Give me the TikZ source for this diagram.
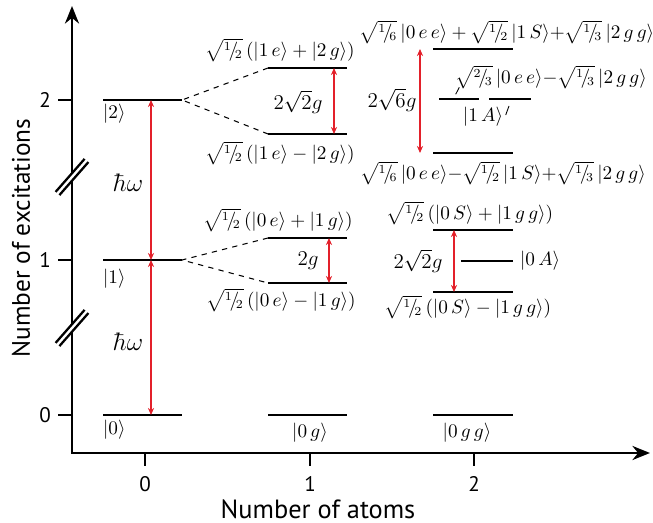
\documentclass[tikz,border=0pt]{standalone}
\usepackage{amsmath,amssymb}
\usepackage{fontspec}
\usepackage{tikz}
\usetikzlibrary{arrows.meta,calc,positioning}
\newfontfamily\axisfont{PT Sans}
\definecolor{GapRed}{HTML}{E3202A}
\newcommand{\kt}[1]{|#1\rangle}
\newcommand{\hf}[2]{{}^{#1}\!/\!{}_{#2}}

\begin{document}
\begin{tikzpicture}[x=0.02cm, y=-0.02cm, >=Stealth,
    eline/.style={line width=1.6pt},
    splitline/.style={dashed, line width=0.6pt},
    gaparrow/.style={{Stealth[length=4pt,width=3.5pt]}-{Stealth[length=4pt,width=3.5pt]}, GapRed, line width=0.8pt},
    axisline/.style={line width=1.5pt},
    ticklabel/.style={font=\axisfont\large},
    ketlabel/.style={inner sep=1pt, font=\fontsize{10.5}{12}\selectfont}]
    \useasboundingbox (0,0) rectangle (653,523);

    % Axes
    \coordinate (org) at (72,453);
    \coordinate (ytop) at (72,6);
    \coordinate (xend) at (650,453);
    \draw[axisline, {Stealth[length=10pt,width=8pt]}-{Stealth[length=10pt,width=8pt]}] (ytop) -- (org) -- (xend);

    % Ticks on both axes
    \foreach \v/\yy in {0/415,1/260,2/100} {
        \draw[axisline] (58,\yy) -- (72,\yy);
        \node[ticklabel] (ey\v) at (45,\yy) {\v};
    }
    \foreach \v/\xx in {0/145,1/310,2/474} {
        \draw[axisline] (\xx,453) -- (\xx,466);
        \node[ticklabel] (ax\v) at (\xx,484) {\v};
    }
    \node[font=\axisfont\fontsize{15}{17}\selectfont] (xlab) at (318,509) {Number of atoms};
    \node[font=\axisfont\Large, rotate=90] (ylab) at (21,238) {Number of excitations};

    % Axis breaks
    \foreach \yy in {177,328} {
        \begin{scope}[shift={(72,\yy)}]
            \draw[white, line width=3pt] (-14,16) -- (14,-16);
            \draw[line width=1.3pt] (-16.4,14.9) -- (12.6,-18.1);
            \draw[line width=1.3pt] (-12.6,18.1) -- (16.4,-14.9);
        \end{scope}
    }

    % No atom: photon ladder
    \coordinate (a0L) at (103,415); \coordinate (a0R) at (182,415);
    \coordinate (a1L) at (103,260); \coordinate (a1R) at (182,260);
    \coordinate (a2L) at (103,100); \coordinate (a2R) at (182,100);
    \foreach \n in {a0,a1,a2} \draw[eline] (\n L) -- (\n R);
    \node[ketlabel, anchor=west] (k0) at (101,430) {$\kt{0}$};
    \node[ketlabel, anchor=west] (k1) at (101,279) {$\kt{1}$};
    \node[ketlabel, anchor=west] (k2) at (101,114) {$\kt{2}$};
    \coordinate (h0) at (151,415);
    \coordinate (h1) at (151,260);
    \coordinate (h2) at (151,100);
    \draw[gaparrow] (h2) -- (h1);
    \draw[gaparrow] (h1) -- (h0);
    \node[font=\Large] (hw2) at (128,183) {$\hbar\omega$};
    \node[font=\Large] (hw1) at (128,342) {$\hbar\omega$};

    % One atom
    \coordinate (b0L) at (268,415); \coordinate (b0R) at (347,415);
    \coordinate (b1uL) at (268,238); \coordinate (b1uR) at (347,238);
    \coordinate (b1dL) at (268,283); \coordinate (b1dR) at (347,283);
    \coordinate (b2uL) at (268,68); \coordinate (b2uR) at (347,68);
    \coordinate (b2dL) at (268,134); \coordinate (b2dR) at (347,134);
    \foreach \n in {b0,b1u,b1d,b2u,b2d} \draw[eline] (\n L) -- (\n R);
    \draw[splitline] (b1uL) -- (a1R) -- (b1dL);
    \draw[splitline] (b2uL) -- (a2R) -- (b2dL);
    \coordinate (g1u) at (329,238); \coordinate (g1d) at (329,283);
    \coordinate (g2u) at (334,68); \coordinate (g2d) at (334,134);
    \draw[gaparrow] (g1u) -- (g1d);
    \draw[gaparrow] (g2u) -- (g2d);
    \node[font=\large] (s1) at (308,261) {$2g$};
    \node[font=\large] (s2) at (298,102) {$2\sqrt{2}g$};
    \node[ketlabel] (kb0) at (310,433) {$\kt{0\,g}$};
    \node[ketlabel] (kb1u) at (278,220) {$\sqrt{\hf12}\,(\kt{0\,e}+\kt{1\,g})$};
    \node[ketlabel] (kb1d) at (281,300) {$\sqrt{\hf12}\,(\kt{0\,e}-\kt{1\,g})$};
    \node[ketlabel] (kb2u) at (280,50) {$\sqrt{\hf12}\,(\kt{1\,e}+\kt{2\,g})$};
    \node[ketlabel] (kb2d) at (280,153) {$\sqrt{\hf12}\,(\kt{1\,e}-\kt{2\,g})$};

    % Two atoms
    \coordinate (c0L) at (433,415); \coordinate (c0R) at (513,415);
    \coordinate (c1uL) at (433,230); \coordinate (c1uR) at (513,230);
    \coordinate (c1dL) at (433,292); \coordinate (c1dR) at (513,292);
    \coordinate (c1aL) at (461,261); \coordinate (c1aR) at (513,261);
    \coordinate (c2uL) at (433,49); \coordinate (c2uR) at (513,49);
    \coordinate (c2dL) at (433,153); \coordinate (c2dR) at (513,153);
    \coordinate (c2mL) at (439,99); \coordinate (c2mR) at (479,99);
    \coordinate (c2nL) at (489,99); \coordinate (c2nR) at (531,99);
    \foreach \n in {c0,c1u,c1d,c1a,c2u,c2d,c2m,c2n} \draw[eline] (\n L) -- (\n R);
    \coordinate (d1u) at (454,230); \coordinate (d1d) at (454,292);
    \coordinate (d2u) at (420,49); \coordinate (d2d) at (420,153);
    \draw[gaparrow] (d1u) -- (d1d);
    \draw[gaparrow] (d2u) -- (d2d);
    \node[font=\large] (t1) at (418,261) {$2\sqrt{2}g$};
    \node[font=\large] (t2) at (392,100) {$2\sqrt{6}g$};
    \node[ketlabel] (kc0) at (467,433) {$\kt{0\,g\,g}$};
    \node[ketlabel, anchor=west] (kc1a) at (518,261) {$\kt{0\,A}$};
    \node[ketlabel] (kc1u) at (470,213) {$\sqrt{\hf12}\,(\kt{0\,S}+\kt{1\,g\,g})$};
    \node[ketlabel] (kc1d) at (468,307) {$\sqrt{\hf12}\,(\kt{0\,S}-\kt{1\,g\,g})$};
    \node[ketlabel] (kc2u) at (507,32) {$\sqrt{\hf16}\,\kt{0\,e\,e}+\sqrt{\hf12}\,\kt{1\,S}{+}\sqrt{\hf13}\,\kt{2\,g\,g}$};
    \node[ketlabel] (kc2d) at (503,173) {$\sqrt{\hf16}\,\kt{0\,e\,e}{-}\sqrt{\hf12}\,\kt{1\,S}{+}\sqrt{\hf13}\,\kt{2\,g\,g}$};
    \node[ketlabel] (kc2m) at (551,77) {$\sqrt{\hf23}\,\kt{0\,e\,e}{-}\sqrt{\hf13}\,\kt{2\,g\,g}$};
    \node[ketlabel] (kc2a) at (483,117) {$\kt{1\,A}$};
    \draw[line width=0.5pt] (455.7,94.3) -- (459.3,87.3);
    \draw[line width=0.5pt] (505.7,115) -- (509,106);
\end{tikzpicture}
\end{document}
